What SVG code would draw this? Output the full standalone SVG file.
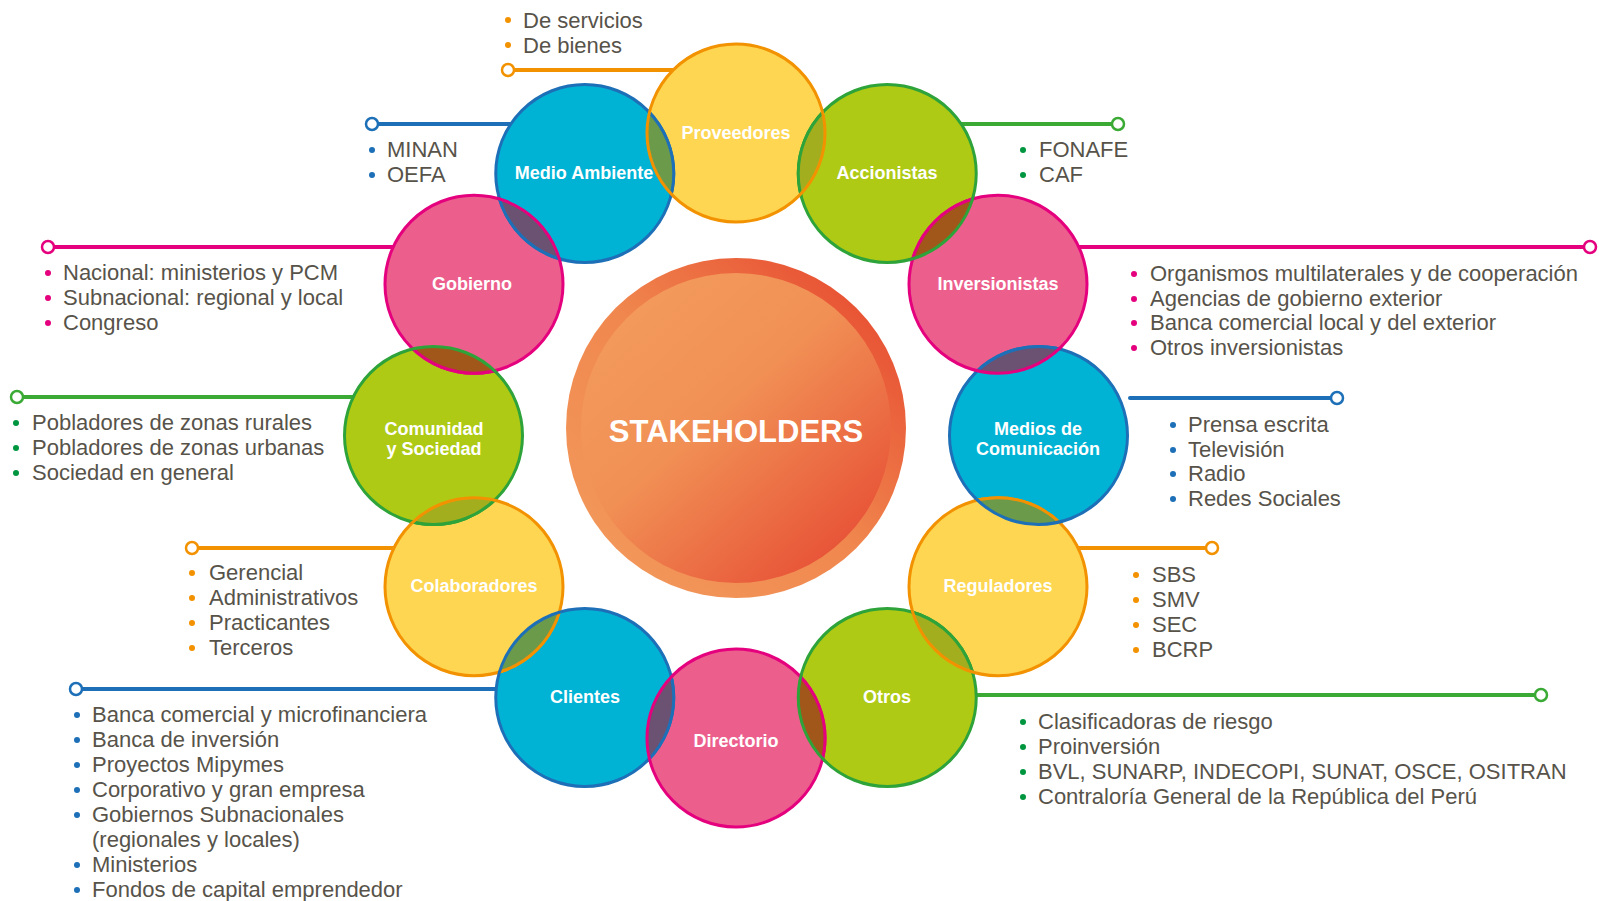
<svg xmlns="http://www.w3.org/2000/svg" width="1599" height="901" viewBox="0 0 1599 901">
<style>
.lbl{font-family:"Liberation Sans",Arial,sans-serif;font-weight:bold;font-size:18px;fill:#fff;text-anchor:middle}
.hub{font-family:"Liberation Sans",Arial,sans-serif;font-weight:bold;font-size:31px;fill:#fff;text-anchor:middle}
.txt{font-family:"Liberation Sans",Arial,sans-serif;font-size:22px;fill:#57534a}
.cb{fill:#00b3d5;stroke:#1d70b7;stroke-width:3}
.cy{fill:#fed651;stroke:#f39200;stroke-width:3}
.cg{fill:#afca14;stroke:#2ea33a;stroke-width:3}
.cp{fill:#ec5f8d;stroke:#e5007e;stroke-width:3}
.sb{fill:none;stroke:#1d70b7;stroke-width:3}
.sy{fill:none;stroke:#f39200;stroke-width:3}
.sg{fill:none;stroke:#2ea33a;stroke-width:3}
.sp{fill:none;stroke:#e5007e;stroke-width:3}
.oYG{fill:#a3ae1f}
.oGP{fill:#a1561a}
.oPB{fill:#6b5273}
.oBY{fill:#6b9a4b}
.lb{stroke:#1d70b7;stroke-width:4;fill:none;stroke-linecap:round}
.ly{stroke:#f39200;stroke-width:4;fill:none;stroke-linecap:round}
.lg{stroke:#3aaa35;stroke-width:4;fill:none;stroke-linecap:round}
.lp{stroke:#e5007e;stroke-width:4;fill:none;stroke-linecap:round}
.eb{fill:#fff;stroke:#1d70b7;stroke-width:2.5}
.ey{fill:#fff;stroke:#f39200;stroke-width:2.5}
.eg{fill:#fff;stroke:#3aaa35;stroke-width:2.5}
.ep{fill:#fff;stroke:#e5007e;stroke-width:2.5}
.bb{fill:#1d70b7}
.by{fill:#f39200}
.bg{fill:#00963f}
.bp{fill:#e5007e}
</style>
<defs>
<linearGradient id="gOuter" x1="0" y1="1" x2="1" y2="0">
<stop offset="0" stop-color="#f39c5e"/>
<stop offset="0.5" stop-color="#f0874e"/>
<stop offset="1" stop-color="#e5402b"/>
</linearGradient>
<linearGradient id="gInner" x1="0.15" y1="0.1" x2="0.9" y2="0.95">
<stop offset="0" stop-color="#f39a5c"/>
<stop offset="0.4" stop-color="#f19055"/>
<stop offset="1" stop-color="#e64b33"/>
</linearGradient>
<clipPath id="k0"><circle cx="736" cy="133" r="89"/></clipPath>
<clipPath id="k1"><circle cx="887.25" cy="173.5" r="89"/></clipPath>
<clipPath id="k2"><circle cx="998" cy="284.25" r="89"/></clipPath>
<clipPath id="k3"><circle cx="1038.5" cy="435.5" r="89"/></clipPath>
<clipPath id="k4"><circle cx="998" cy="586.75" r="89"/></clipPath>
<clipPath id="k5"><circle cx="887.25" cy="697.5" r="89"/></clipPath>
<clipPath id="k6"><circle cx="736" cy="738" r="89"/></clipPath>
<clipPath id="k7"><circle cx="584.75" cy="697.5" r="89"/></clipPath>
<clipPath id="k8"><circle cx="474" cy="586.75" r="89"/></clipPath>
<clipPath id="k9"><circle cx="433.5" cy="435.5" r="89"/></clipPath>
<clipPath id="k10"><circle cx="474" cy="284.25" r="89"/></clipPath>
<clipPath id="k11"><circle cx="584.75" cy="173.5" r="89"/></clipPath>
<clipPath id="K0"><circle cx="736" cy="133" r="91"/></clipPath>
<clipPath id="K1"><circle cx="887.25" cy="173.5" r="91"/></clipPath>
<clipPath id="K2"><circle cx="998" cy="284.25" r="91"/></clipPath>
<clipPath id="K3"><circle cx="1038.5" cy="435.5" r="91"/></clipPath>
<clipPath id="K4"><circle cx="998" cy="586.75" r="91"/></clipPath>
<clipPath id="K5"><circle cx="887.25" cy="697.5" r="91"/></clipPath>
<clipPath id="K6"><circle cx="736" cy="738" r="91"/></clipPath>
<clipPath id="K7"><circle cx="584.75" cy="697.5" r="91"/></clipPath>
<clipPath id="K8"><circle cx="474" cy="586.75" r="91"/></clipPath>
<clipPath id="K9"><circle cx="433.5" cy="435.5" r="91"/></clipPath>
<clipPath id="K10"><circle cx="474" cy="284.25" r="91"/></clipPath>
<clipPath id="K11"><circle cx="584.75" cy="173.5" r="91"/></clipPath>
</defs>
<rect width="1599" height="901" fill="#fff"/>

<g id="connectors">
<line class="ly" x1="514" y1="70" x2="736" y2="70"/><circle class="ey" cx="508" cy="70" r="6"/>
<line class="lb" x1="378" y1="124" x2="585" y2="124"/><circle class="eb" cx="372" cy="124" r="6"/>
<line class="lg" x1="887" y1="124" x2="1112" y2="124"/><circle class="eg" cx="1118" cy="124" r="6"/>
<line class="lp" x1="54" y1="247" x2="474" y2="247"/><circle class="ep" cx="48" cy="247" r="6"/>
<line class="lp" x1="998" y1="247" x2="1584" y2="247"/><circle class="ep" cx="1590" cy="247" r="6"/>
<line class="lg" x1="23" y1="397" x2="433" y2="397"/><circle class="eg" cx="17" cy="397" r="6"/>
<line class="lb" x1="1130" y1="398" x2="1331" y2="398"/><circle class="eb" cx="1337" cy="398" r="6"/>
<line class="ly" x1="198" y1="548" x2="474" y2="548"/><circle class="ey" cx="192" cy="548" r="6"/>
<line class="ly" x1="998" y1="548" x2="1206" y2="548"/><circle class="ey" cx="1212" cy="548" r="6"/>
<line class="lb" x1="82" y1="689" x2="585" y2="689"/><circle class="eb" cx="76" cy="689" r="6"/>
<line class="lg" x1="887" y1="695" x2="1535" y2="695"/><circle class="eg" cx="1541" cy="695" r="6"/>
</g>

<g id="stakeholders">
<circle cx="736" cy="428" r="170" fill="url(#gOuter)"/>
<circle cx="736" cy="428" r="155" fill="url(#gInner)"/>
<text class="hub" x="736" y="442">STAKEHOLDERS</text>
</g>

<g id="proveedores">
<circle class="cy" cx="736" cy="133" r="89"/>
<text class="lbl" x="736" y="139">Proveedores</text>
<circle class="by" cx="508" cy="20" r="3"/><circle class="by" cx="508" cy="45" r="3"/>
<text class="txt"><tspan x="523" y="28">De servicios</tspan><tspan x="523" y="53">De bienes</tspan></text>
</g>

<g id="accionistas">
<circle class="cg" cx="887.25" cy="173.5" r="89"/>
<g clip-path="url(#k0)"><circle class="oYG" cx="887.25" cy="173.5" r="89"/></g>
<g clip-path="url(#K0)"><circle class="sg" cx="887.25" cy="173.5" r="89"/></g>
<g clip-path="url(#K1)"><circle class="sy" cx="736" cy="133" r="89"/></g>
<text class="lbl" x="887" y="179">Accionistas</text>
<circle class="bg" cx="1023" cy="150" r="3"/><circle class="bg" cx="1023" cy="175" r="3"/>
<text class="txt"><tspan x="1039" y="157">FONAFE</tspan><tspan x="1039" y="182">CAF</tspan></text>
</g>

<g id="inversionistas">
<circle class="cp" cx="998" cy="284.25" r="89"/>
<g clip-path="url(#k1)"><circle class="oGP" cx="998" cy="284.25" r="89"/></g>
<g clip-path="url(#K1)"><circle class="sp" cx="998" cy="284.25" r="89"/></g>
<g clip-path="url(#K2)"><circle class="sg" cx="887.25" cy="173.5" r="89"/></g>
<text class="lbl" x="998" y="290">Inversionistas</text>
<circle class="bp" cx="1134" cy="274" r="3"/><circle class="bp" cx="1134" cy="299" r="3"/><circle class="bp" cx="1134" cy="323" r="3"/><circle class="bp" cx="1134" cy="348" r="3"/>
<text class="txt"><tspan x="1150" y="281">Organismos multilaterales y de cooperación</tspan><tspan x="1150" y="306">Agencias de gobierno exterior</tspan><tspan x="1150" y="330">Banca comercial local y del exterior</tspan><tspan x="1150" y="355">Otros inversionistas</tspan></text>
</g>

<g id="medios">
<circle class="cb" cx="1038.5" cy="435.5" r="89"/>
<g clip-path="url(#k2)"><circle class="oPB" cx="1038.5" cy="435.5" r="89"/></g>
<g clip-path="url(#K2)"><circle class="sb" cx="1038.5" cy="435.5" r="89"/></g>
<g clip-path="url(#K3)"><circle class="sp" cx="998" cy="284.25" r="89"/></g>
<text class="lbl"><tspan x="1038" y="435">Medios de</tspan><tspan x="1038" y="455">Comunicación</tspan></text>
<circle class="bb" cx="1173" cy="425" r="3"/><circle class="bb" cx="1173" cy="450" r="3"/><circle class="bb" cx="1173" cy="474" r="3"/><circle class="bb" cx="1173" cy="499" r="3"/>
<text class="txt"><tspan x="1188" y="432">Prensa escrita</tspan><tspan x="1188" y="457">Televisión</tspan><tspan x="1188" y="481">Radio</tspan><tspan x="1188" y="506">Redes Sociales</tspan></text>
</g>

<g id="reguladores">
<circle class="cy" cx="998" cy="586.75" r="89"/>
<g clip-path="url(#k3)"><circle class="oBY" cx="998" cy="586.75" r="89"/></g>
<g clip-path="url(#K3)"><circle class="sy" cx="998" cy="586.75" r="89"/></g>
<g clip-path="url(#K4)"><circle class="sb" cx="1038.5" cy="435.5" r="89"/></g>
<text class="lbl" x="998" y="592">Reguladores</text>
<circle class="by" cx="1136" cy="575" r="3"/><circle class="by" cx="1136" cy="600" r="3"/><circle class="by" cx="1136" cy="625" r="3"/><circle class="by" cx="1136" cy="650" r="3"/>
<text class="txt"><tspan x="1152" y="582">SBS</tspan><tspan x="1152" y="607">SMV</tspan><tspan x="1152" y="632">SEC</tspan><tspan x="1152" y="657">BCRP</tspan></text>
</g>

<g id="otros">
<circle class="cg" cx="887.25" cy="697.5" r="89"/>
<g clip-path="url(#k4)"><circle class="oYG" cx="887.25" cy="697.5" r="89"/></g>
<g clip-path="url(#K4)"><circle class="sg" cx="887.25" cy="697.5" r="89"/></g>
<g clip-path="url(#K5)"><circle class="sy" cx="998" cy="586.75" r="89"/></g>
<text class="lbl" x="887" y="703">Otros</text>
<circle class="bg" cx="1023" cy="722" r="3"/><circle class="bg" cx="1023" cy="747" r="3"/><circle class="bg" cx="1023" cy="772" r="3"/><circle class="bg" cx="1023" cy="797" r="3"/>
<text class="txt"><tspan x="1038" y="729">Clasificadoras de riesgo</tspan><tspan x="1038" y="754">Proinversión</tspan><tspan x="1038" y="779">BVL, SUNARP, INDECOPI, SUNAT, OSCE, OSITRAN</tspan><tspan x="1038" y="804">Contraloría General de la República del Perú</tspan></text>
</g>

<g id="directorio">
<circle class="cp" cx="736" cy="738" r="89"/>
<g clip-path="url(#k5)"><circle class="oGP" cx="736" cy="738" r="89"/></g>
<g clip-path="url(#K5)"><circle class="sp" cx="736" cy="738" r="89"/></g>
<g clip-path="url(#K6)"><circle class="sg" cx="887.25" cy="697.5" r="89"/></g>
<text class="lbl" x="736" y="747">Directorio</text>
</g>

<g id="clientes">
<circle class="cb" cx="584.75" cy="697.5" r="89"/>
<g clip-path="url(#k6)"><circle class="oPB" cx="584.75" cy="697.5" r="89"/></g>
<g clip-path="url(#K6)"><circle class="sb" cx="584.75" cy="697.5" r="89"/></g>
<g clip-path="url(#K7)"><circle class="sp" cx="736" cy="738" r="89"/></g>
<text class="lbl" x="585" y="703">Clientes</text>
<circle class="bb" cx="77" cy="715" r="3"/><circle class="bb" cx="77" cy="740" r="3"/><circle class="bb" cx="77" cy="765" r="3"/><circle class="bb" cx="77" cy="790" r="3"/><circle class="bb" cx="77" cy="815" r="3"/><circle class="bb" cx="77" cy="865" r="3"/><circle class="bb" cx="77" cy="890" r="3"/>
<text class="txt"><tspan x="92" y="722">Banca comercial y microfinanciera</tspan><tspan x="92" y="747">Banca de inversión</tspan><tspan x="92" y="772">Proyectos Mipymes</tspan><tspan x="92" y="797">Corporativo y gran empresa</tspan><tspan x="92" y="822">Gobiernos Subnacionales</tspan><tspan x="92" y="847">(regionales y locales)</tspan><tspan x="92" y="872">Ministerios</tspan><tspan x="92" y="897">Fondos de capital emprendedor</tspan></text>
</g>

<g id="colaboradores">
<circle class="cy" cx="474" cy="586.75" r="89"/>
<g clip-path="url(#k7)"><circle class="oBY" cx="474" cy="586.75" r="89"/></g>
<g clip-path="url(#K7)"><circle class="sy" cx="474" cy="586.75" r="89"/></g>
<g clip-path="url(#K8)"><circle class="sb" cx="584.75" cy="697.5" r="89"/></g>
<text class="lbl" x="474" y="592">Colaboradores</text>
<circle class="by" cx="192" cy="573" r="3"/><circle class="by" cx="192" cy="598" r="3"/><circle class="by" cx="192" cy="623" r="3"/><circle class="by" cx="192" cy="648" r="3"/>
<text class="txt"><tspan x="209" y="580">Gerencial</tspan><tspan x="209" y="605">Administrativos</tspan><tspan x="209" y="630">Practicantes</tspan><tspan x="209" y="655">Terceros</tspan></text>
</g>

<g id="comunidad">
<circle class="cg" cx="433.5" cy="435.5" r="89"/>
<g clip-path="url(#k8)"><circle class="oYG" cx="433.5" cy="435.5" r="89"/></g>
<g clip-path="url(#K8)"><circle class="sg" cx="433.5" cy="435.5" r="89"/></g>
<g clip-path="url(#K9)"><circle class="sy" cx="474" cy="586.75" r="89"/></g>
<text class="lbl"><tspan x="434" y="435">Comunidad</tspan><tspan x="434" y="455">y Sociedad</tspan></text>
<circle class="bg" cx="16" cy="423" r="3"/><circle class="bg" cx="16" cy="448" r="3"/><circle class="bg" cx="16" cy="473" r="3"/>
<text class="txt"><tspan x="32" y="430">Pobladores de zonas rurales</tspan><tspan x="32" y="455">Pobladores de zonas urbanas</tspan><tspan x="32" y="480">Sociedad en general</tspan></text>
</g>

<g id="gobierno">
<circle class="cp" cx="474" cy="284.25" r="89"/>
<g clip-path="url(#k9)"><circle class="oGP" cx="474" cy="284.25" r="89"/></g>
<g clip-path="url(#K9)"><circle class="sp" cx="474" cy="284.25" r="89"/></g>
<g clip-path="url(#K10)"><circle class="sg" cx="433.5" cy="435.5" r="89"/></g>
<text class="lbl" x="472" y="290">Gobierno</text>
<circle class="bp" cx="48" cy="273" r="3"/><circle class="bp" cx="48" cy="298" r="3"/><circle class="bp" cx="48" cy="323" r="3"/>
<text class="txt"><tspan x="63" y="280">Nacional: ministerios y PCM</tspan><tspan x="63" y="305">Subnacional: regional y local</tspan><tspan x="63" y="330">Congreso</tspan></text>
</g>

<g id="medio-ambiente">
<circle class="cb" cx="584.75" cy="173.5" r="89"/>
<g clip-path="url(#k10)"><circle class="oPB" cx="584.75" cy="173.5" r="89"/></g>
<g clip-path="url(#K10)"><circle class="sb" cx="584.75" cy="173.5" r="89"/></g>
<g clip-path="url(#K11)"><circle class="sp" cx="474" cy="284.25" r="89"/></g>
<g clip-path="url(#k0)"><circle class="oBY" cx="584.75" cy="173.5" r="89"/></g>
<g clip-path="url(#K0)"><circle class="sb" cx="584.75" cy="173.5" r="89"/></g>
<g clip-path="url(#K11)"><circle class="sy" cx="736" cy="133" r="89"/></g>
<text class="lbl" x="584" y="179">Medio Ambiente</text>
<circle class="bb" cx="372" cy="150" r="3"/><circle class="bb" cx="372" cy="175" r="3"/>
<text class="txt"><tspan x="387" y="157">MINAN</tspan><tspan x="387" y="182">OEFA</tspan></text>
</g>
</svg>
